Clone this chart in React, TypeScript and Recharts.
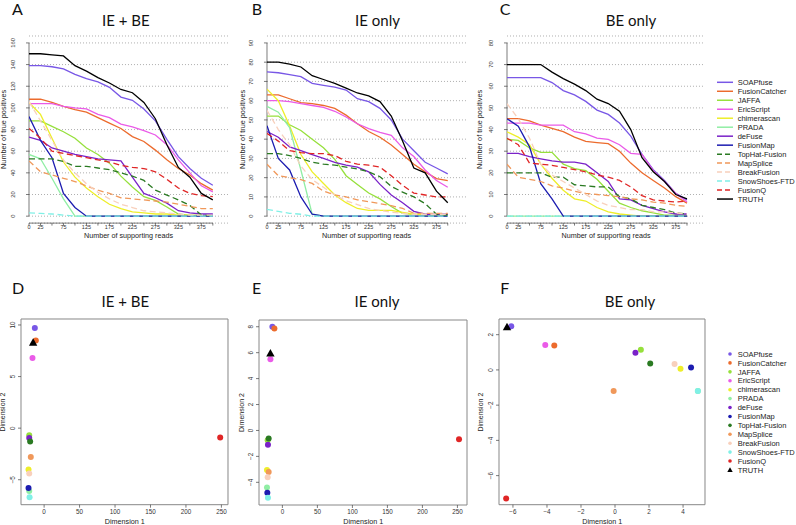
import React from 'react';
import {
  LineChart, Line, XAxis, YAxis, CartesianGrid, ReferenceLine, ReferenceArea,
  ScatterChart, Scatter,
} from 'recharts';

// ---------------- categories / styles ----------------
const methods = [
  'SOAPfuse', 'FusionCatcher', 'JAFFA', 'EricScript', 'chimerascan', 'PRADA', 'deFuse',
  'FusionMap', 'TopHat-Fusion', 'MapSplice', 'BreakFusion', 'SnowShoes-FTD', 'FusionQ', 'TRUTH',
];
const methodColors = [
  '#7857E6', '#EC6B2D', '#96E03C', '#EA5BE8', '#EEEE2A', '#90EEA4', '#7A22C8',
  '#1C1CB0', '#2A7A22', '#F0985A', '#F8D0BC', '#80F0E6', '#E02626', '#000000',
];
const methodDashed = [false, false, false, false, false, false, false, false, true, true, true, true, true, false];

// ---------------- x values / tick labels ----------------
const readCounts = [0, 25, 50, 75, 100, 125, 150, 175, 200, 225, 250, 275, 300, 325, 350, 375, 400];
const labeledReads = [0, 25, 75, 125, 175, 225, 275, 325, 375];

// ---------------- Panel A: IE + BE ----------------
const ieBeSOAPfuse = [139, 139, 138, 136, 131, 127, 124, 119, 110, 107, 99, 88, 71, 55, 44, 35, 28.5];
const ieBeFusionCatcher = [108, 108, 105, 101.5, 98.5, 96, 91, 86, 81, 73.5, 69, 61, 52, 44, 38, 30, 24];
const ieBeJAFFA = [88, 88, 83, 78, 72, 63, 57, 49, 37, 27, 18, 14.5, 8.5, 2, 0.6, 0.6, 0.5];
const ieBeEricScript = [104, 104, 104, 101.5, 100, 99, 94, 91, 85, 82.5, 79, 75, 66, 52, 40, 28, 22.5];
const ieBeChimerascan = [105, 94, 72, 50, 36, 26, 18, 11, 7, 4, 3, 2, 2, 1, 1, 0.5, 0.5];
const ieBePRADA = [57, 53, 35, 16, 0, 0, 0, 0, 0, 0, 0, 0, 0, 0, 0, 0, 0];
const ieBeDeFuse = [73, 70, 63, 60, 57, 55, 53, 52, 51, 36, 21, 17, 12, 5, 3, 2, 2];
const ieBeFusionMap = [92, 70, 54, 21, 8, 0, 0, 0, 0, 0, 0, 0, 0, 0, 0, 0, 0];
const ieBeTopHat = [53, 53, 53, 50.5, 46, 46, 44.5, 43, 40, 37, 33, 24, 19.5, 15, 10, 1, 0.5];
const ieBeMapSplice = [51, 41, 38, 35, 32, 28, 24, 21, 17, 16, 15, 14, 13, 11, 9, 7, 7];
const ieBeBreakFusion = [106, 88, 70, 52, 40, 30, 22, 16, 11, 8, 5, 4, 3, 2, 1, 1, 1];
const ieBeSnowShoes = [3, 2.5, 2, 1, 0, 0, 0, 0, 0, 0, 0, 0, 0, 0, 0, 0, 0];
const ieBeFusionQ = [81, 72, 60, 58, 56, 54, 52, 50, 47, 45, 44, 41, 34, 26, 21, 19, 18];
const ieBeTruth = [150, 150, 149, 148, 139, 134, 128, 123, 117, 114, 105, 90, 66, 45, 36, 21, 15];

// ---------------- Panel B: IE only ----------------
const ieSOAPfuse = [75, 74.5, 73.5, 72.5, 69, 68, 67, 65.5, 61, 59.5, 56, 50, 40, 34, 28, 25, 22];
const ieFusionCatcher = [63, 63, 61, 59, 58.5, 57.5, 56, 52.5, 48, 44, 41, 37, 32, 27, 23, 19.5, 18.5];
const ieJAFFA = [52, 52, 47.5, 44.5, 40, 35.5, 29.5, 21, 16.5, 12, 9, 5, 1.5, 1, 0.5, 0.5, 0.5];
const ieEricScript = [60, 60, 59.5, 58.5, 57.5, 56.5, 54.5, 51.5, 48, 45.5, 43.5, 42, 35.5, 31, 24, 18.5, 15];
const ieChimerascan = [66, 60, 47, 32, 23, 17, 11, 7, 4, 3, 3, 3, 2, 1, 0.5, 0.5, 0.5];
const iePRADA = [57, 54, 46, 24, 1, 0, 0, 0, 0, 0, 0, 0, 0, 0, 0, 0, 0];
const ieDeFuse = [44, 41, 36, 34, 32, 30, 28, 26.5, 25.5, 23, 16.5, 11, 7, 2.5, 1, 1, 1];
const ieFusionMap = [47, 30, 24, 10, 1, 0, 0, 0, 0, 0, 0, 0, 0, 0, 0, 0, 0];
const ieTopHat = [32.5, 32.5, 31.5, 30, 28, 27, 26.5, 25.5, 24.5, 23, 20.5, 15.5, 12.5, 10, 6.5, 1, 0.5];
const ieMapSplice = [27, 21, 20, 19, 17, 13, 11, 10, 8.5, 7.5, 6.5, 5.5, 4, 1.5, 1.5, 1.5, 1.5];
const ieBreakFusion = [55, 45, 37, 26, 19, 15, 11, 8, 6, 4, 3, 2, 1.5, 1, 1, 1, 1];
const ieSnowShoes = [3.5, 2.5, 1.5, 1, 0, 0, 0, 0, 0, 0, 0, 0, 0, 0, 0, 0, 0];
const ieFusionQ = [43, 39, 34, 33, 32.5, 32.5, 31.5, 28.5, 27, 26.5, 25.5, 21, 16, 12, 11, 10, 10];
const ieTruth = [80, 80, 79, 77.5, 73, 71, 69, 66.5, 64, 62.5, 59.5, 52, 39, 25, 22.5, 13, 7];

// ---------------- Panel C: BE only ----------------
const beSOAPfuse = [64, 64, 64, 64, 61.7, 58, 56, 53, 49, 47, 43, 37, 28.5, 21.5, 16.5, 10.5, 7.5];
const beFusionCatcher = [45, 45, 44, 42, 40.5, 39, 36.5, 34.5, 34, 33.5, 30, 24.5, 20, 16.5, 13, 9, 6];
const beJAFFA = [35.5, 35, 31.5, 29.5, 29.5, 24, 22, 21, 17, 11.5, 6, 4, 2.5, 1.5, 0.5, 0.5, 0.5];
const beEricScript = [43, 43, 43, 42, 42, 42, 39, 38, 36, 35.5, 33, 29, 28.5, 21, 16, 10.5, 6.5];
const beChimerascan = [39, 36.5, 33, 24, 17.5, 12, 8, 7, 4, 2, 1, 0.5, 0, 0, 0, 0, 0];
const bePRADA = [0, 0, 0, 0, 0, 0, 0, 0, 0, 0, 0, 0, 0, 0, 0, 0, 0];
const beDeFuse = [29, 29, 27.5, 26.5, 25.5, 25, 25, 24, 20, 16, 8, 7.5, 5, 3.5, 2, 1, 1];
const beFusionMap = [45, 41.5, 32, 15, 8, 0, 0, 0, 0, 0, 0, 0, 0, 0, 0, 0, 0];
const beTopHat = [20, 20, 20, 20, 18, 18, 14.5, 14, 13.5, 13.5, 9, 8, 5, 4, 3, 1.5, 1];
const beMapSplice = [24, 18, 17, 16, 14, 13, 11.5, 10.5, 10, 9.5, 9, 8, 7.5, 6.5, 6, 5, 4.5];
const beBreakFusion = [52, 45, 36, 24, 19, 16, 13, 10, 7, 5, 4, 3, 3, 2, 2, 1.5, 1];
const beSnowShoes = [0, 0, 0, 0, 0, 0, 0, 0, 0, 0, 0, 0, 0, 0, 0, 0, 0];
const beFusionQ = [36, 33, 24.5, 24, 23.5, 22.5, 21.5, 20.5, 19, 18, 16.5, 13.5, 9.5, 7.5, 7, 6.5, 7];
const beTruth = [70, 70, 70, 70, 66.5, 63.5, 61, 58, 54, 52, 48.5, 40, 27, 20.5, 16, 10, 8];

// ---------------- MDS scatter (order = methods) ----------------
const mdsIeBeDim1 = [-13.1, -11.7, -21, -16.4, -22, -21, -21, -22, -19.7, -18.8, -21, -20.5, 248.3, -15.5];
const mdsIeBeDim2 = [9.7, 8.5, -0.7, 6.8, -4.0, -6.1, -0.95, -5.8, -1.3, -2.8, -4.4, -6.7, -0.9, 8.3];
const mdsIeDim1 = [-14.3, -11.4, -21, -17.1, -22, -22, -20.6, -21.5, -19.6, -19.6, -21, -20.6, 252.3, -17.1];
const mdsIeDim2 = [8.0, 7.87, -0.75, 5.5, -3.05, -4.4, -1.1, -4.8, -0.62, -3.2, -3.6, -5.2, -0.67, 5.95];
const mdsBeDim1 = [-6.1, -3.57, 1.52, -4.1, 3.85, 4.87, 1.2, 4.47, 2.07, -0.08, 3.5, 4.87, -6.4, -6.35];
const mdsBeDim2 = [2.48, 1.38, 1.15, 1.42, 0.06, -1.19, 0.98, 0.13, 0.36, -1.19, 0.34, -1.19, -7.3, 2.43];

const curvesIeBe = [ieBeSOAPfuse, ieBeFusionCatcher, ieBeJAFFA, ieBeEricScript, ieBeChimerascan, ieBePRADA, ieBeDeFuse, ieBeFusionMap, ieBeTopHat, ieBeMapSplice, ieBeBreakFusion, ieBeSnowShoes, ieBeFusionQ, ieBeTruth];
const curvesIe = [ieSOAPfuse, ieFusionCatcher, ieJAFFA, ieEricScript, ieChimerascan, iePRADA, ieDeFuse, ieFusionMap, ieTopHat, ieMapSplice, ieBreakFusion, ieSnowShoes, ieFusionQ, ieTruth];
const curvesBe = [beSOAPfuse, beFusionCatcher, beJAFFA, beEricScript, beChimerascan, bePRADA, beDeFuse, beFusionMap, beTopHat, beMapSplice, beBreakFusion, beSnowShoes, beFusionQ, beTruth];

// ---------------- helpers ----------------
const FONT = '"Liberation Sans", Arial, Helvetica, sans-serif';
const TITLE_FONT = 'Lato, "Open Sans", sans-serif';
const AXIS = '#444';
const YW = 30;   // y-axis band width
const XH = 20;   // x-axis band height
const M = { left: 10, top: 10, right: 12, bottom: 4 };

type Box = { left: number; top: number; right: number; bottom: number };

const fmt = (v: number) => (v < 0 ? '\u2212' + Math.abs(v) : String(v));
const fmtReads = (v: number) => (labeledReads.includes(v) ? String(v) : '');

function LinePanel({ box, curves, yMax, yStep, xMax }: { box: Box; curves: number[][]; yMax: number; yStep: number; xMax: number }) {
  const yPad = yMax * 0.04;
  const rows = readCounts.map((t, i) => {
    const r: any = { x: t };
    methods.forEach((m, j) => { r[m] = curves[j][i]; });
    return r;
  });
  const yTicks: number[] = [];
  for (let v = 0; v <= yMax; v += yStep) yTicks.push(v);
  const w = box.right - box.left + M.left + YW + M.right;
  const h = box.bottom - box.top + M.top + XH + M.bottom;
  return (
    <div style={{ position: 'absolute', left: box.left - M.left - YW, top: box.top - M.top }}>
      <LineChart width={w} height={h} data={rows} margin={M}>
        <CartesianGrid vertical={false} stroke="#9a9a9a" strokeDasharray="1 2" strokeWidth={0.8} />
        <XAxis type="number" dataKey="x" domain={[0, xMax]} ticks={readCounts} interval={0} height={XH}
          axisLine={false} tickSize={2.5} tickMargin={0} tickLine={{ stroke: AXIS, strokeWidth: 0.7 }}
          tickFormatter={fmtReads}
          tick={{ fontSize: 5.5, fill: '#333', fontFamily: FONT }} allowDataOverflow />
        <YAxis type="number" domain={[-yPad, yMax + yPad]} ticks={yTicks} interval={0} width={YW}
          axisLine={false} tickSize={3} tickMargin={13.3} tickLine={{ stroke: AXIS, strokeWidth: 0.7 }}
          tickFormatter={fmt}
          tick={{ fontSize: 5.8, fill: '#333', fontFamily: FONT, angle: -90, textAnchor: 'middle' }} allowDataOverflow />
        <ReferenceLine segment={[{ x: 0, y: 0 }, { x: 0, y: yMax }]} stroke={AXIS} strokeWidth={0.7} ifOverflow="visible" />
        <ReferenceLine segment={[{ x: 0, y: -yPad }, { x: 400, y: -yPad }]} stroke={AXIS} strokeWidth={0.7} ifOverflow="visible" />
        {methods.map((m, i) => (
          <Line key={m} type="linear" dataKey={m} stroke={methodColors[i]} strokeWidth={1.3}
            strokeDasharray={methodDashed[i] ? '6 3.5' : undefined} dot={false} activeDot={false}
            isAnimationActive={false} />
        ))}
      </LineChart>
    </div>
  );
}

const Triangle = (cx: number, cy: number, s: number, color: string) => (
  <polygon points={`${cx},${cy - s * 0.62} ${cx - s * 0.6},${cy + s * 0.45} ${cx + s * 0.6},${cy + s * 0.45}`} fill={color} />
);

function ScatterPanel({ box, d1, d2, xDomain, yDomain, xTicks, yTicks }: {
  box: Box; d1: number[]; d2: number[]; xDomain: number[]; yDomain: number[]; xTicks: number[]; yTicks: number[];
}) {
  const w = box.right - box.left + M.left + YW + M.right;
  const h = box.bottom - box.top + M.top + XH + M.bottom;
  return (
    <div style={{ position: 'absolute', left: box.left - M.left - YW, top: box.top - M.top }}>
      <ScatterChart width={w} height={h} margin={M}>
        <XAxis type="number" dataKey="x" domain={xDomain} ticks={xTicks} interval={0} height={XH}
          axisLine={false} tickSize={3} tickMargin={2} tickLine={{ stroke: AXIS, strokeWidth: 0.7 }}
          tickFormatter={fmt}
          tick={{ fontSize: 6.3, fill: '#333', fontFamily: FONT }} allowDataOverflow />
        <YAxis type="number" dataKey="y" domain={yDomain} ticks={yTicks} interval={0} width={YW}
          axisLine={false} tickSize={3} tickMargin={5.6} tickLine={{ stroke: AXIS, strokeWidth: 0.7 }}
          tickFormatter={fmt}
          tick={{ fontSize: 6.3, fill: '#333', fontFamily: FONT, angle: -90, textAnchor: 'middle' }} allowDataOverflow />
        <ReferenceArea x1={xDomain[0]} x2={xDomain[1]} y1={yDomain[0]} y2={yDomain[1]}
          fill="none" fillOpacity={0} stroke="#888" strokeWidth={1} ifOverflow="visible" />
        {methods.map((m, i) => (
          <Scatter key={m} data={[{ x: d1[i], y: d2[i] }]} fill={methodColors[i]} isAnimationActive={false}
            shape={(p: any) => (m === 'TRUTH'
              ? Triangle(p.cx, p.cy, 7, methodColors[i])
              : <circle cx={p.cx} cy={p.cy} r={3} fill={methodColors[i]} />)} />
        ))}
      </ScatterChart>
    </div>
  );
}

// ---------------- layout ----------------
const boxA: Box = { left: 29, top: 35.8, right: 228, bottom: 222.9 };
const boxB: Box = { left: 266.5, top: 35.8, right: 466.7, bottom: 222.9 };
const boxC: Box = { left: 507, top: 35.8, right: 705, bottom: 222.9 };
const boxD: Box = { left: 21.3, top: 319.3, right: 228.3, bottom: 505 };
const boxE: Box = { left: 259.3, top: 320, right: 467.3, bottom: 505 };
const boxF: Box = { left: 499.3, top: 319.3, right: 705.3, bottom: 505 };

const rot = (x: number, y: number, txt: string, fs: number) => (
  <text x={x} y={y} transform={`rotate(-90 ${x} ${y})`} textAnchor="middle" fontSize={fs} fontFamily={FONT} fill="#222">{txt}</text>
);
const mid = (b: Box) => (b.left + b.right) / 2;
const vmid = (b: Box) => (b.top + b.bottom) / 2;

export default function App() {
  return (
    <div style={{ position: 'absolute', left: 0, top: 0, width: 796, height: 525, background: '#fff', overflow: 'hidden' }}>
      <LinePanel box={boxA} curves={curvesIeBe} yMax={160} yStep={20} xMax={433} />
      <LinePanel box={boxB} curves={curvesIe} yMax={90} yStep={10} xMax={443} />
      <LinePanel box={boxC} curves={curvesBe} yMax={80} yStep={10} xMax={440} />
      <ScatterPanel box={boxD} d1={mdsIeBeDim1} d2={mdsIeBeDim2} xDomain={[-32.6, 259.3]} yDomain={[-7.42, 10.58]}
        xTicks={[0, 50, 100, 150, 200, 250]} yTicks={[-5, 0, 5, 10]} />
      <ScatterPanel box={boxE} d1={mdsIeDim1} d2={mdsIeDim2} xDomain={[-33.4, 263.7]} yDomain={[-5.75, 8.52]}
        xTicks={[0, 50, 100, 150, 200, 250]} yTicks={[-4, -2, 0, 2, 4, 6, 8]} />
      <ScatterPanel box={boxF} d1={mdsBeDim1} d2={mdsBeDim2} xDomain={[-6.82, 5.29]} yDomain={[-7.65, 2.89]}
        xTicks={[-6, -4, -2, 0, 2, 4]} yTicks={[-6, -4, -2, 0, 2]} />

      <svg width={796} height={525} style={{ position: 'absolute', left: 0, top: 0, pointerEvents: 'none' }}>
        {/* panel letters */}
        <g fontFamily={TITLE_FONT} fontSize={16} fill="#111" textAnchor="middle">
          <text x={17.5} y={15}>A</text>
          <text x={257} y={15}>B</text>
          <text x={505} y={15}>C</text>
          <text x={18} y={294}>D</text>
          <text x={256.7} y={294}>E</text>
          <text x={504.7} y={294}>F</text>
        </g>
        {/* titles */}
        <g fontFamily={TITLE_FONT} fontSize={15} fill="#111" textAnchor="middle">
          <text x={125.8} y={25.5}>IE + BE</text>
          <text x={377.5} y={25.5}>IE only</text>
          <text x={631} y={25.5}>BE only</text>
          <text x={125.3} y={306.7}>IE + BE</text>
          <text x={377} y={306.7}>IE only</text>
          <text x={630} y={306.7}>BE only</text>
        </g>
        {/* axis titles */}
        <g fontFamily={FONT} fontSize={7.2} fill="#222" textAnchor="middle">
          <text x={mid(boxA)} y={237.8}>Number of supporting reads</text>
          <text x={mid(boxB)} y={237.8}>Number of supporting reads</text>
          <text x={mid(boxC)} y={237.8}>Number of supporting reads</text>
          <text x={mid(boxD)} y={523.5}>Dimension 1</text>
          <text x={mid(boxE)} y={523.5}>Dimension 1</text>
          <text x={mid(boxF)} y={523.5}>Dimension 1</text>
        </g>
        {rot(6, vmid(boxA), 'Number of true positives', 7.3)}
        {rot(245, vmid(boxB), 'Number of true positives', 7.3)}
        {rot(482, vmid(boxC), 'Number of true positives', 7.3)}
        {rot(5, vmid(boxD), 'Dimension 2', 7)}
        {rot(244.2, vmid(boxE), 'Dimension 2', 7)}
        {rot(483.2, vmid(boxF), 'Dimension 2', 7)}

        {/* top legend */}
        {methods.map((m, i) => {
          const y = 82.3 + i * 8.98;
          return (
            <g key={'lt' + m}>
              <line x1={717} x2={733} y1={y} y2={y} stroke={methodColors[i]} strokeWidth={1.5}
                strokeDasharray={methodDashed[i] ? '5 3' : undefined} />
              <text x={737.7} y={y + 2.7} fontSize={7.5} fontFamily={FONT} fill="#222">{m}</text>
            </g>
          );
        })}
        {/* bottom legend */}
        {methods.map((m, i) => {
          const y = 354 + i * 8.92;
          return (
            <g key={'lb' + m}>
              {m === 'TRUTH'
                ? Triangle(730, y, 4.5, methodColors[i])
                : <circle cx={730} cy={y} r={1.8} fill={methodColors[i]} />}
              <text x={737.7} y={y + 2.7} fontSize={7.5} fontFamily={FONT} fill="#222">{m}</text>
            </g>
          );
        })}
      </svg>
    </div>
  );
}
